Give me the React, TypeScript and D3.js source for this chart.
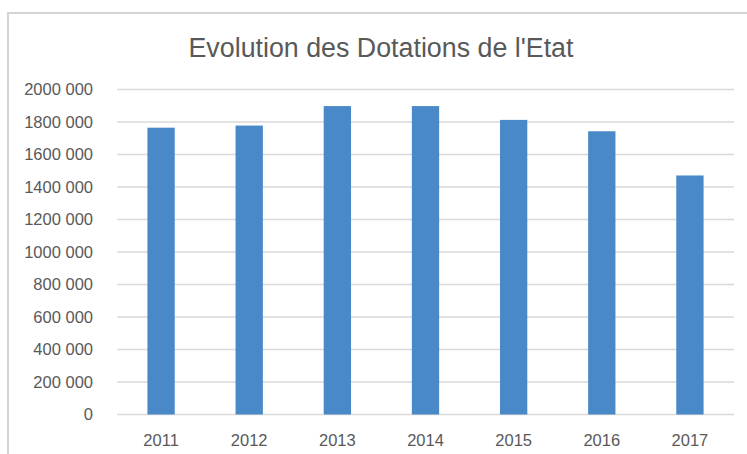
import React from "react";
import * as d3 from "d3";

const years = ["2011", "2012", "2013", "2014", "2015", "2016", "2017"];
const dotations = [1765000, 1778000, 1898000, 1898000, 1813000, 1743000, 1471000];
const yTickValues = [0, 200000, 400000, 600000, 800000, 1000000, 1200000, 1400000, 1600000, 1800000, 2000000];
const title = "Evolution des Dotations de l'Etat";

const width = 747;
const height = 454;
const margin = { top: 89.5, left: 117, bottom: 39.5, right: 13 };
const font = "'Liberation Sans', Arial, sans-serif";
const textColor = "#595959";

// "2000 000" style, like the original sheet
const fmt = (v: number) =>
  v === 0 ? "0" : `${Math.floor(v / 1000)} ${String(v % 1000).padStart(3, "0")}`;

export default function App() {
  const iwidth = width - margin.left - margin.right;
  const iheight = height - margin.top - margin.bottom;

  const x = d3.scaleBand()
    .domain(years)
    .range([0, iwidth])
    .paddingInner(0.69)
    .paddingOuter(0.345);

  const y = d3.scaleLinear()
    .domain([0, 2000000])
    .range([iheight, 0]);

  return (
    <svg width={width} height={height}
      style={{ position: "absolute", left: 0, top: 0, background: "#fff" }}>
      {/* chart area frame, cut off on the right and bottom */}
      <path d={`M8,${height} V13 H${width}`} fill="none" stroke="#d4d4d4" strokeWidth={2} />

      <text x={381} y={57} textAnchor="middle" fontFamily={font} fontSize={26.8} fill={textColor}>
        {title}
      </text>

      <g transform={`translate(${margin.left}, ${margin.top})`}>
        {yTickValues.map(t => (
          <g key={t}>
            <line x1={0} x2={iwidth} y1={y(t)} y2={y(t)} stroke="#d9d9d9" strokeWidth={1.6} />
            <text x={-24} y={y(t)} dy="0.36em" textAnchor="end"
              fontFamily={font} fontSize={16.5} fill={textColor}>
              {fmt(t)}
            </text>
          </g>
        ))}

        {years.map((yr, i) => (
          <rect key={yr}
            x={x(yr)}
            y={y(dotations[i])}
            width={x.bandwidth()}
            height={iheight - y(dotations[i])}
            fill="#4a89c8" />
        ))}

        {years.map(yr => (
          <text key={yr} x={(x(yr) ?? 0) + x.bandwidth() / 2} y={iheight + 31}
            textAnchor="middle" fontFamily={font} fontSize={16.5} fill={textColor}>
            {yr}
          </text>
        ))}
      </g>
    </svg>
  );
}
